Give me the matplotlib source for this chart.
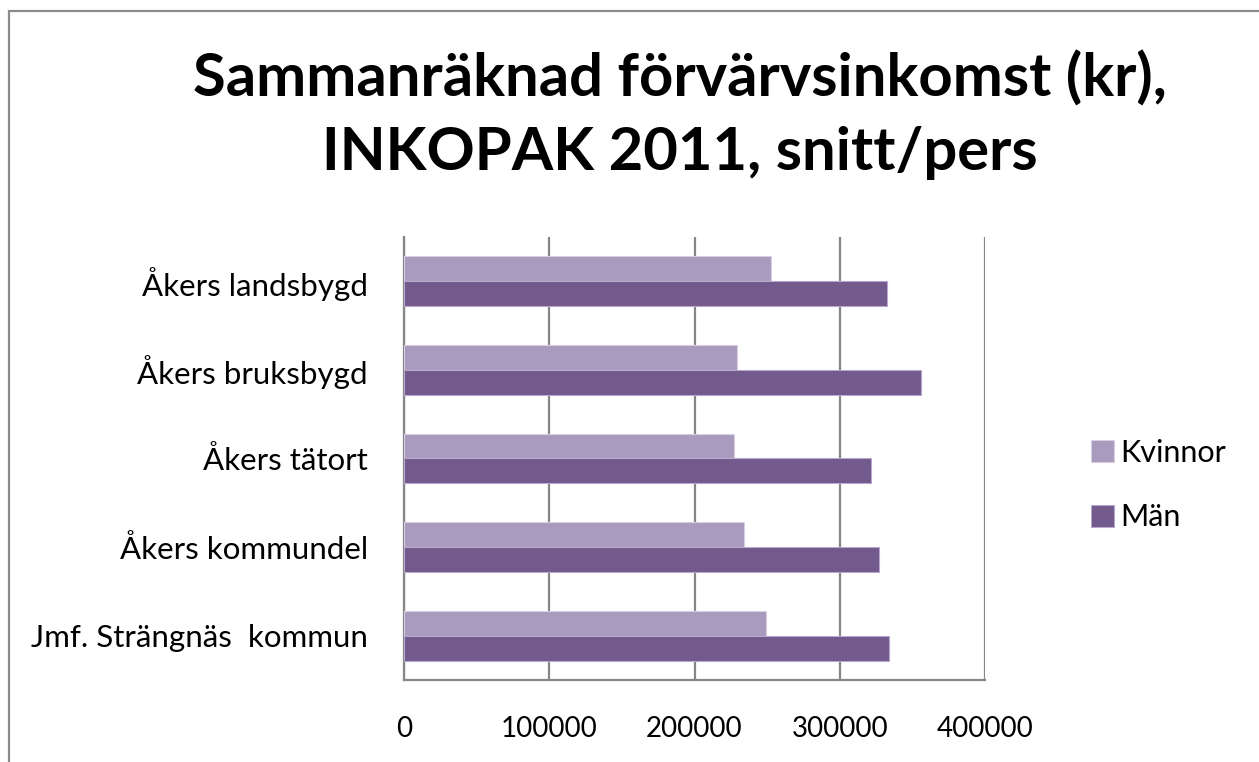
import numpy as np
import matplotlib.pyplot as plt
from matplotlib.patches import Rectangle

# Data (kr, snitt per person)
omraden = ['Åkers landsbygd', 'Åkers bruksbygd', 'Åkers tätort',
           'Åkers kommundel', 'Jmf. Strängnäs  kommun']
kvinnor = [252700, 229200, 227300, 234400, 249100]
man = [332300, 355800, 321400, 326900, 334000]

plt.rcParams['font.family'] = ['Lato', 'DejaVu Sans']

fig = plt.figure(figsize=(12.59, 7.62), dpi=100)
ax = fig.add_axes([0.3209, 0.1076, 0.4615, 0.5814])

# top to bottom order as in the reference
y = np.arange(len(omraden))[::-1]
h = 0.28
ax.barh(y + h / 2, kvinnor, height=h, color='#A99BBE', edgecolor='#D8D0E2',
        linewidth=0.8, label='Kvinnor', zorder=3)
ax.barh(y - h / 2, man, height=h, color='#725A8C', edgecolor='#B8A8CC',
        linewidth=0.8, label='Män', zorder=3)

ax.set_xlim(0, 400000)
ax.set_ylim(-0.5, len(omraden) - 0.5)
ax.set_xticks([0, 100000, 200000, 300000, 400000])
ax.set_xticklabels(['0', '100000', '200000', '300000', '400000'])
ax.set_yticks(y)
ax.set_yticklabels(omraden)
ax.tick_params(axis='both', length=0, colors='black')
ax.tick_params(axis='y', pad=26, labelsize=22.5)
ax.tick_params(axis='x', pad=26, labelsize=20)

ax.grid(axis='x', color='#868686', linewidth=1.6, zorder=0)
for s in ['top', 'right']:
    ax.spines[s].set_visible(False)
for s in ['left', 'bottom']:
    ax.spines[s].set_color('#868686')
    ax.spines[s].set_linewidth(1.6)

leg = ax.legend(loc='center left', bbox_to_anchor=(1.135, 0.44), frameon=False,
                fontsize=22, handlelength=0.75, handleheight=0.75,
                handletextpad=0.2, labelspacing=1.2)

fig.text(0.54, 0.849, 'Sammanräknad förvärvsinkomst (kr),\nINKOPAK 2011, snitt/pers',
         ha='center', va='center', fontsize=43, fontweight='bold',
         linespacing=1.45)

# chart area border (runs off right and bottom edges)
fig.patches.append(Rectangle((9 / 1259, -0.1), 1.2, 1.1 - 11 / 762,
                             transform=fig.transFigure, fill=False,
                             edgecolor='#8C8C8C', linewidth=1.6))

fig.savefig('out.png', dpi=100)
